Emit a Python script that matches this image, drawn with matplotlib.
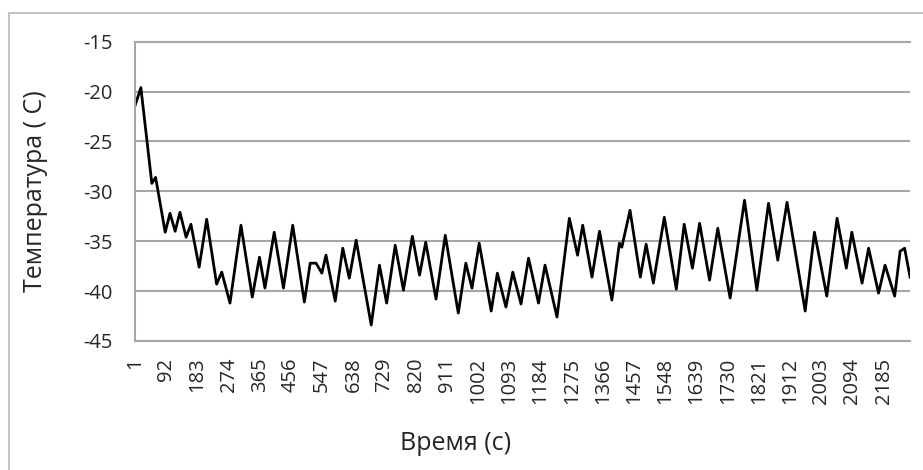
import numpy as np
import matplotlib
matplotlib.use('Agg')
import matplotlib.pyplot as plt
import matplotlib.patches as patches

### temperature trace at its turning points
time_s = [1, 18, 50, 61, 89, 103, 118, 132, 150, 164, 188, 210, 239, 254, 278,
          310, 343, 364, 380, 407, 434, 461, 495, 512, 529, 546, 558, 585, 607,
          626, 646, 690, 714, 735, 760, 784, 810, 831, 849, 879, 906, 944, 966,
          984, 1005, 1040, 1058, 1083, 1103, 1127, 1149, 1178, 1197, 1232, 1268,
          1292, 1307, 1334, 1356, 1392, 1414, 1421, 1445, 1475, 1492, 1513, 1545,
          1580, 1603, 1627, 1648, 1677, 1701, 1737, 1779, 1815, 1849, 1876, 1903,
          1956, 1983, 2019, 2049, 2076, 2092, 2122, 2141, 2170, 2189, 2217, 2233,
          2246, 2262]
temp_c = [-21.4, -19.6, -29.2, -28.6, -34.1, -32.2, -34.0, -32.1, -34.6, -33.3,
          -37.6, -32.8, -39.3, -38.1, -41.2, -33.4, -40.6, -36.6, -39.7, -34.1,
          -39.7, -33.4, -41.1, -37.2, -37.2, -38.2, -36.4, -41.0, -35.7, -38.7,
          -34.9, -43.4, -37.4, -41.2, -35.4, -39.9, -34.5, -38.4, -35.1, -40.8,
          -34.4, -42.2, -37.2, -39.7, -35.2, -42.0, -38.2, -41.6, -38.1, -41.3,
          -36.7, -41.2, -37.4, -42.6, -32.7, -36.4, -33.4, -38.6, -34.0, -40.9,
          -35.2, -35.6, -31.9, -38.6, -35.3, -39.2, -32.6, -39.8, -33.3, -37.7,
          -33.2, -38.9, -33.7, -40.7, -30.9, -39.9, -31.2, -36.9, -31.1, -42.0,
          -34.1, -40.5, -32.7, -37.7, -34.1, -39.2, -35.7, -40.2, -37.4, -40.5,
          -36.0, -35.7, -38.6]

### axis labels and ticks
x_ticks = [1, 92, 183, 274, 365, 456, 547, 638, 729, 820, 911, 1002, 1093, 1184,
           1275, 1366, 1457, 1548, 1639, 1730, 1821, 1912, 2003, 2094, 2185]
y_ticks = [-45, -40, -35, -30, -25, -20, -15]
x_title = 'Время (с)'
y_title = 'Температура ( С)'

plt.rcParams['font.family'] = ['Open Sans', 'DejaVu Sans']

grid_color = '#a6a6a6'
text_color = '#262626'

fig = plt.figure(figsize=(9.23, 4.70), dpi=100)
ax = fig.add_axes([0.1463, 0.2745, 0.8397, 0.6368])

### outer chart frame (only top and left edges fall inside the picture)
frame = patches.Rectangle((9 / 923, -0.2), 1.5, 1.2 - 13 / 470,
                          transform=fig.transFigure, fill=False,
                          edgecolor='#c4c4c4', linewidth=1.5)
fig.patches.append(frame)

### the trace
ax.plot(time_s, temp_c, color='black', linewidth=2.0, solid_joinstyle='round')

ax.set_xlim(1, 2262)
ax.set_ylim(-45, -15)
ax.set_yticks(y_ticks)
ax.set_yticklabels([str(v) for v in y_ticks])
ax.set_xticks(x_ticks)
ax.set_xticklabels([str(v) for v in x_ticks], rotation=90)

### horizontal gridlines
ax.yaxis.grid(True, color=grid_color, linewidth=1.5)
ax.set_axisbelow(True)

### spines
ax.spines['right'].set_visible(False)
for side in ['left', 'top', 'bottom']:
    ax.spines[side].set_color(grid_color)
    ax.spines[side].set_linewidth(1.5)

ax.tick_params(axis='both', length=0, labelsize=14.5, colors=text_color)
ax.tick_params(axis='y', pad=16)
ax.tick_params(axis='x', pad=12)

ax.set_xlabel(x_title, fontsize=18, color=text_color)
ax.set_ylabel(y_title, fontsize=18, color=text_color)
ax.xaxis.set_label_coords(0.413, -0.30)
ax.yaxis.set_label_coords(-0.112, 0.5)

plt.savefig('out.png', dpi=100)
